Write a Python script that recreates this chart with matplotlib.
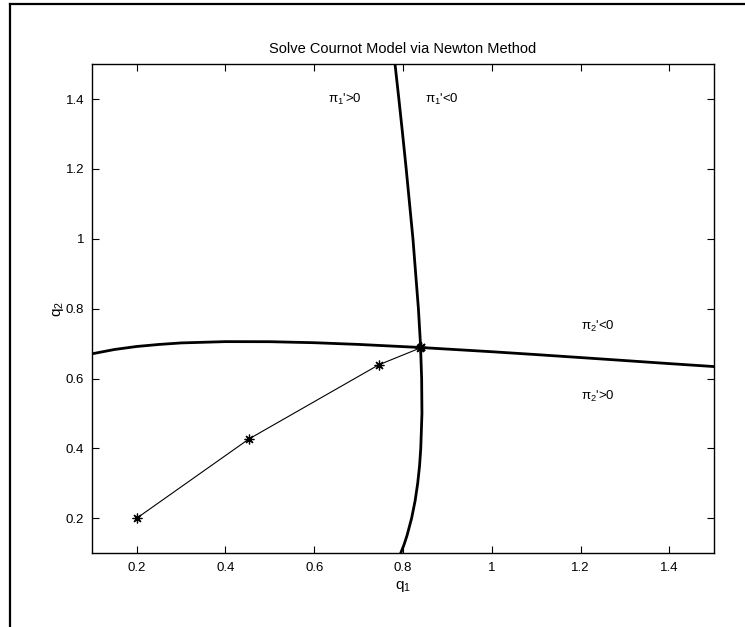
import matplotlib
matplotlib.use('Agg')
import matplotlib.pyplot as plt
from matplotlib.lines import Line2D

plt.rcParams['font.family'] = ['Liberation Sans', 'DejaVu Sans']
plt.rcParams['mathtext.fontset'] = 'custom'
plt.rcParams['mathtext.rm'] = 'Liberation Sans'
plt.rcParams['mathtext.it'] = 'Liberation Sans'

# pi_1' = 0 curve (q1 as function of q2)
c1_q2 = [0.10, 0.125, 0.15, 0.20, 0.25, 0.30, 0.35, 0.40, 0.50, 0.60, 0.6888, 0.70, 0.80, 1.00, 1.20, 1.30, 1.40, 1.50]
c1_q1 = [0.7948, 0.8025, 0.8089, 0.8194, 0.8273, 0.8331, 0.8373, 0.8400, 0.8427, 0.8420, 0.8396, 0.8393, 0.8347, 0.8224, 0.8072, 0.7991, 0.7907, 0.7820]

# pi_2' = 0 curve (q2 as function of q1)
c2_q1 = [0.10, 0.15, 0.20, 0.25, 0.30, 0.40, 0.50, 0.60, 0.70, 0.8396, 1.00, 1.10, 1.20, 1.30, 1.40, 1.50]
c2_q2 = [0.6709, 0.6831, 0.6917, 0.6975, 0.7019, 0.7056, 0.7054, 0.7025, 0.6976, 0.6888, 0.6767, 0.6685, 0.6600, 0.6514, 0.6427, 0.6343]

# Newton iterates
it_q1 = [0.200, 0.453, 0.745, 0.838, 0.8396, 0.8396]
it_q2 = [0.200, 0.427, 0.639, 0.687, 0.6888, 0.6888]

ticks = [0.2, 0.4, 0.6, 0.8, 1.0, 1.2, 1.4]
tick_labels = ['0.2', '0.4', '0.6', '0.8', '1', '1.2', '1.4']

fig = plt.figure(figsize=(7.45, 6.27), dpi=100)
ax = fig.add_axes([92.3 / 745, (627 - 553.2) / 627, 621.4 / 745, 489.1 / 627])

ax.plot(c1_q1, c1_q2, color='black', lw=2.0)
ax.plot(c2_q1, c2_q2, color='black', lw=2.0)
ax.plot(it_q1, it_q2, color='black', lw=0.8, marker=(8, 2, 0), markersize=7,
        markeredgewidth=0.9)

ax.set_xlim(0.1, 1.5)
ax.set_ylim(0.1, 1.5)
ax.set_xticks(ticks)
ax.set_xticklabels(tick_labels)
ax.set_yticks(ticks)
ax.set_yticklabels(tick_labels)
ax.tick_params(direction='in', length=5, width=0.8, top=True, right=True,
               labelsize=9.5, pad=6)
for s in ax.spines.values():
    s.set_linewidth(1.0)

ax.text(0.63, 1.4, r"$\pi_1$'>0", fontsize=9.5, va='center')
ax.text(0.85, 1.4, r"$\pi_1$'<0", fontsize=9.5, va='center')
ax.text(1.2, 0.75, r"$\pi_2$'<0", fontsize=9.5, va='center')
ax.text(1.2, 0.55, r"$\pi_2$'>0", fontsize=9.5, va='center')

ax.set_title('Solve Cournot Model via Newton Method', fontsize=10.5, pad=8)
ax.set_xlabel(r'q$_1$', fontsize=11)
ax.set_ylabel(r'q$_2$', fontsize=11)
ax.xaxis.set_label_coords(0.5, -0.052)
ax.yaxis.set_label_coords(-0.042, 0.5)

# outer frame (top and left edges)
fig.add_artist(Line2D([9.5 / 745, 9.5 / 745], [0, 1 - 4 / 627], color='black', lw=1.6,
                      transform=fig.transFigure))
fig.add_artist(Line2D([9.5 / 745, 1], [1 - 4 / 627, 1 - 4 / 627], color='black', lw=1.6,
                      transform=fig.transFigure))

fig.savefig('out.png', dpi=100)
